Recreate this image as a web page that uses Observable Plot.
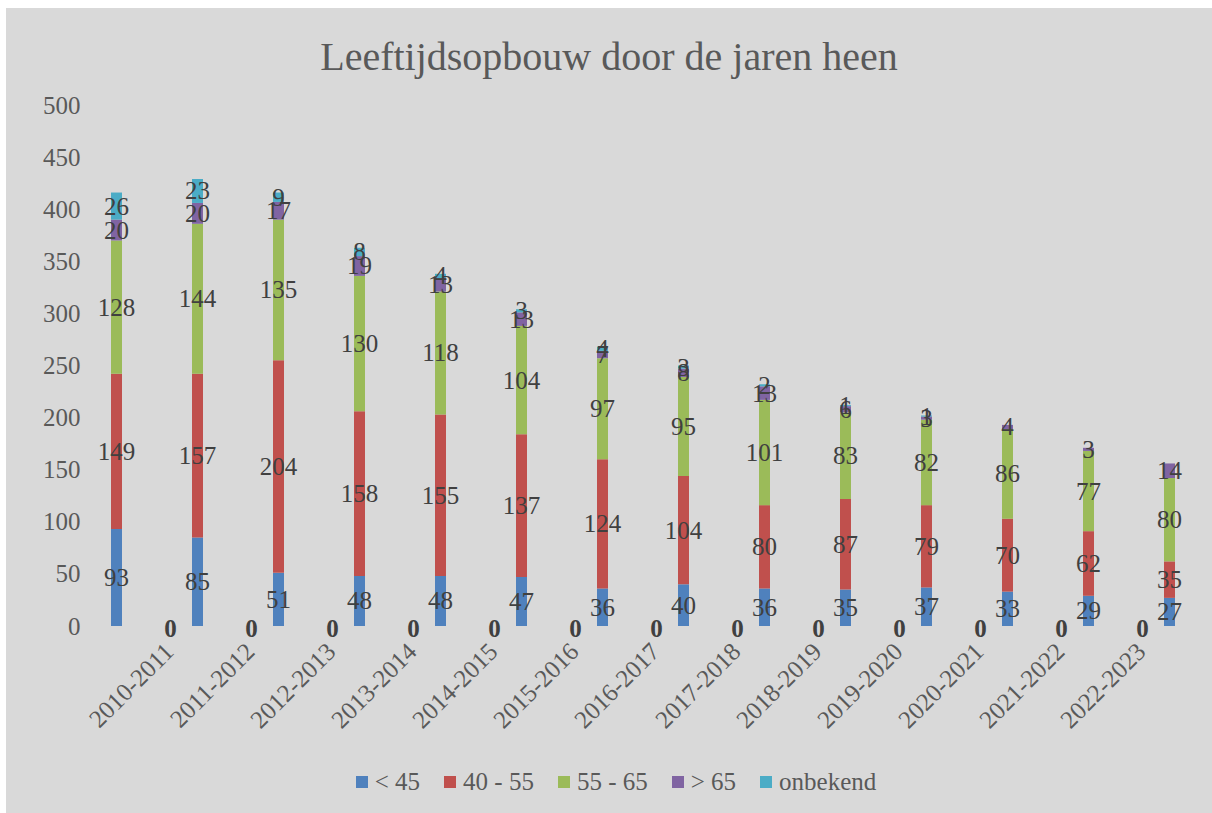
<!DOCTYPE html>
<html>
<head>
<meta charset="utf-8">
<script src="https://cdn.jsdelivr.net/npm/d3@7"></script>
<script src="https://cdn.jsdelivr.net/npm/@observablehq/plot@0.6"></script>
<style>
html, body { margin: 0; padding: 0; background: #ffffff; }
#chart { position: absolute; left: 6px; top: 8px; width: 1206px; height: 805px; background: #d9d9d9; font-family: "Liberation Serif", serif; overflow: hidden; }
#title { position: absolute; left: 0; width: 100%; top: 29px; text-align: center; font-size: 40px; line-height: 40px; color: #595959; }
#plot { position: absolute; left: 0; top: 82px; }
#legend { position: absolute; left: 0; width: 100%; top: 759px; height: 30px; display: flex; justify-content: center; align-items: center; font-size: 25px; color: #595959; padding-left: 14px; box-sizing: border-box; }
.item { display: flex; align-items: center; margin-right: 24px; }
.item:last-child { margin-right: 0; }
.sw { width: 12px; height: 12px; margin-right: 7px; }
</style>
</head>
<body>
<div id="chart">
  <div id="title">Leeftijdsopbouw door de jaren heen</div>
  <div id="plot"></div>
  <div id="legend"></div>
</div>
<script>
// Category (tick) labels
const categories = ["2010-2011","2011-2012","2012-2013","2013-2014","2014-2015","2015-2016","2016-2017","2017-2018","2018-2019","2019-2020","2020-2021","2021-2022","2022-2023"];
// Stacked series (one value per column)
const under45   = [93, 85, 51, 48, 48, 47, 36, 40, 36, 35, 37, 33, 29, 27];
const age40to55 = [149, 157, 204, 158, 155, 137, 124, 104, 80, 87, 79, 70, 62, 35];
const age55to65 = [128, 144, 135, 130, 118, 104, 97, 95, 101, 83, 82, 86, 77, 80];
const over65    = [20, 20, 17, 19, 13, 13, 7, 8, 13, 6, 3, 4, 3, 14];
const unknown   = [26, 23, 9, 8, 4, 3, 4, 3, 2, 1, 1, null, null, null];
// Empty series shown only by its "0" data labels
const emptySeries = [0, 0, 0, 0, 0, 0, 0, 0, 0, 0, 0, 0, 0];
// Legend names and y tick values
const seriesNames = ["< 45", "40 - 55", "55 - 65", "> 65", "onbekend"];
const yTicks = [0, 50, 100, 150, 200, 250, 300, 350, 400, 450, 500];

const seriesColors = ["#4f81bd", "#c0504d", "#9bbb59", "#8064a2", "#4bacc6"];
const seriesValues = [under45, age40to55, age55to65, over65, unknown];

const rows = [];
seriesValues.forEach((vals, s) => vals.forEach((v, j) => {
  if (v != null) rows.push({bar: j, series: seriesNames[s], value: v});
}));
const offset = 2 / 3;
const zeroRows = emptySeries.map((v, i) => ({pos: i + offset, value: v}));
const catRows = categories.map((c, i) => ({pos: i + offset, label: c}));

const chart = Plot.plot({
  width: 1206,
  height: 670,
  marginLeft: 80,
  marginRight: 0,
  marginTop: 15,
  marginBottom: 134,
  style: {background: "transparent", fontFamily: "Liberation Serif, serif", fontSize: "25px", color: "#595959", overflow: "visible"},
  x: {domain: [0, 13], range: [110, 1163], axis: null},
  y: {domain: [0, 500], range: [536, 15], ticks: yTicks, tickSize: 0, tickPadding: 6, label: null},
  color: {domain: seriesNames, range: seriesColors},
  marks: [
    Plot.ruleX(rows, Plot.stackY({x: "bar", y: "value", z: "series", stroke: "series", strokeWidth: 11})),
    Plot.text(rows, Plot.stackY({x: "bar", y: "value", z: "series", text: d => String(d.value), fill: "#404040", fontSize: 25})),
    Plot.text(zeroRows, {x: "pos", y: "value", text: d => String(d.value), fontWeight: "bold", fill: "#404040", fontSize: 25, dy: 2}),
    Plot.text(catRows, {x: "pos", y: () => 0, text: "label", rotate: -45, textAnchor: "end", dx: -1, dy: 21, fill: "#595959", fontSize: 25})
  ]
});
document.getElementById("plot").appendChild(chart);

const legend = document.getElementById("legend");
seriesNames.forEach((name, i) => {
  const item = document.createElement("div");
  item.className = "item";
  const sw = document.createElement("div");
  sw.className = "sw";
  sw.style.background = seriesColors[i];
  const label = document.createElement("span");
  label.textContent = name;
  item.appendChild(sw);
  item.appendChild(label);
  legend.appendChild(item);
});
</script>
</body>
</html>
